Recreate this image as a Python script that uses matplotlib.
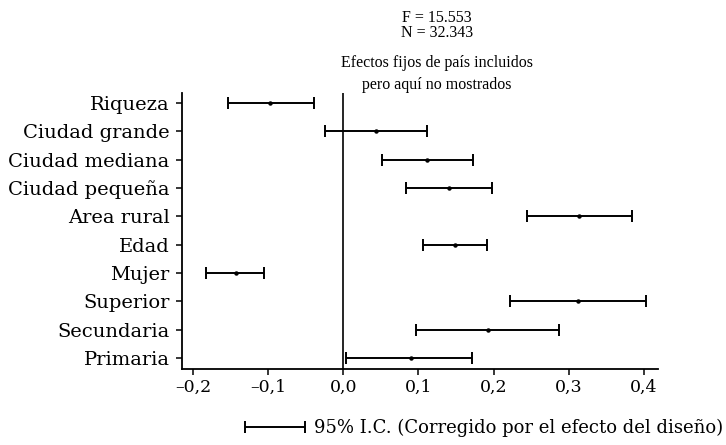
import matplotlib
matplotlib.use("Agg")
import matplotlib.pyplot as plt
from matplotlib.legend_handler import HandlerErrorbar
import numpy as np

# coeficientes e intervalos de confianza
variables = ["Riqueza", "Ciudad grande", "Ciudad mediana", "Ciudad pequeña",
             "Area rural", "Edad", "Mujer", "Superior", "Secundaria", "Primaria"]
coef = [-0.097, 0.044, 0.112, 0.141, 0.313, 0.148, -0.143, 0.312, 0.193, 0.090]
lower = [-0.153, -0.024, 0.052, 0.084, 0.244, 0.106, -0.182, 0.222, 0.097, 0.004]
upper = [-0.039, 0.112, 0.173, 0.198, 0.384, 0.191, -0.105, 0.403, 0.287, 0.171]
xticks = [-0.2, -0.1, 0.0, 0.1, 0.2, 0.3, 0.4]
xticklabels = ["\u20130,2", "\u20130,1", "0,0", "0,1", "0,2", "0,3", "0,4"]
notes = ["F = 15.553", "N = 32.343", "Efectos fijos de país incluidos",
         "pero aquí no mostrados"]
legend_text = "95% I.C. (Corregido por el efecto del diseño)"

plt.rcParams["font.family"] = ["DejaVu Serif"]


class HandlerCI(HandlerErrorbar):
    # la leyenda muestra solo la barra del intervalo, sin el punto
    def create_artists(self, *args, **kwargs):
        arts = super().create_artists(*args, **kwargs)
        arts[-1].set_visible(False)
        return arts


fig = plt.figure(figsize=[7.26, 4.45], dpi=100)
ax = fig.add_axes([0.2507, 0.171, 0.655, 0.62])

coef = np.array(coef)
y = np.arange(len(variables))[::-1]
xerr = [coef - np.array(lower), np.array(upper) - coef]

eb = ax.errorbar(coef, y, xerr=xerr, fmt="o", ms=2.2, color="black",
                 ecolor="black", elinewidth=1.4, capsize=4.5, capthick=1.4,
                 label=legend_text)
ax.axvline(0, color="black", lw=1.2)

ax.set_xlim(-0.2145, 0.418)
ax.set_ylim(-0.39, len(variables) - 0.65)
ax.set_yticks(y)
ax.set_yticklabels(variables, fontsize=14)
ax.set_xticks(xticks)
ax.set_xticklabels(xticklabels, fontsize=12.5)
ax.tick_params(axis="both", direction="out", length=4, width=1.1, colors="black")
ax.tick_params(axis="y", pad=5)
for s in ["top", "right"]:
    ax.spines[s].set_visible(False)
for s in ["left", "bottom"]:
    ax.spines[s].set_linewidth(1.3)

# notas arriba
note_y = [0.960, 0.925, 0.858, 0.808]
for txt, ny in zip(notes, note_y):
    fig.text(0.602, ny, txt, ha="center", va="center", fontsize=11.5,
             family="Liberation Serif")

# leyenda del intervalo
fig.legend(handles=[eb], labels=[legend_text], loc="center",
           bbox_to_anchor=(0.667, 0.038), frameon=False, fontsize=13,
           handlelength=3.3, handletextpad=0.5, numpoints=1,
           handler_map={eb: HandlerCI(xerr_size=1.66)})

fig.savefig("out.png", dpi=100)
